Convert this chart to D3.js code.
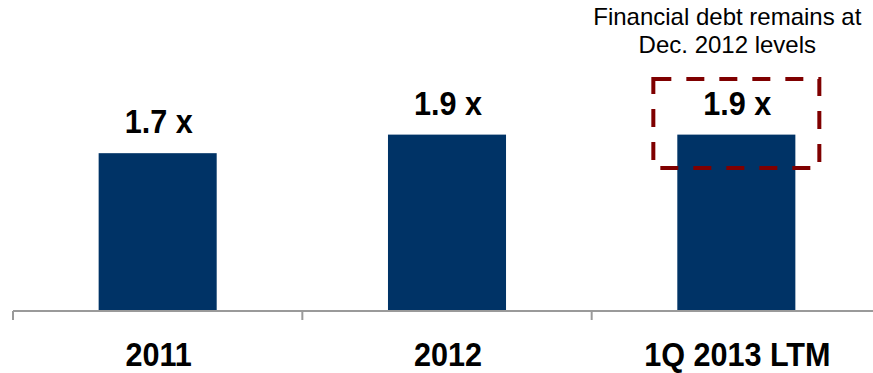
<!DOCTYPE html>
<html><head><meta charset="utf-8">
<script src="https://cdn.jsdelivr.net/npm/d3@7"></script>
<style>html,body{margin:0;padding:0;background:#fff;}svg{display:block;}</style>
</head><body>
<svg id="chart" width="873" height="373"></svg>
<script>
const categories = ["2011", "2012", "1Q 2013 LTM"];
const values = [1.7, 1.9, 1.9];
const valueLabels = ["1.7 x", "1.9 x", "1.9 x"];
const annotationLines = ["Financial debt remains at", "Dec. 2012 levels"];
const highlightIndex = 2;

const svg = d3.select("#chart");
const baseY = 311;
const x = d3.scaleBand().domain(categories).range([13, 881]).padding(0);
const y = d3.scaleLinear().domain([0, 3.35]).range([baseY, 0]);
const barW = x.bandwidth() * 0.408;
const cx = d => x(d) + x.bandwidth() / 2;
const sx = 0.9;

// bars
svg.selectAll("rect.bar").data(categories).join("rect")
  .attr("class", "bar")
  .attr("x", d => cx(d) - barW / 2)
  .attr("width", barW)
  .attr("y", (d, i) => y(values[i]))
  .attr("height", (d, i) => baseY - y(values[i]))
  .attr("fill", "#003366");

// axis
svg.append("line").attr("x1", x.range()[0]).attr("x2", 873)
  .attr("y1", baseY).attr("y2", baseY)
  .attr("stroke", "#9a9a9a").attr("stroke-width", 2);
svg.selectAll("line.tick").data(categories).join("line")
  .attr("class", "tick")
  .attr("x1", d => x(d)).attr("x2", d => x(d))
  .attr("y1", baseY).attr("y2", baseY + 9)
  .attr("stroke", "#9a9a9a").attr("stroke-width", 2);

// category labels
svg.selectAll("text.cat").data(categories).join("text")
  .attr("class", "cat")
  .attr("transform", d => `translate(${cx(d) + 1},366) scale(${sx},1)`)
  .attr("text-anchor", "middle")
  .attr("font-family", "Liberation Sans, Arial, sans-serif")
  .attr("font-weight", "bold")
  .attr("font-size", 34)
  .attr("fill", "#000")
  .text(d => d);

// value labels
svg.selectAll("text.val").data(categories).join("text")
  .attr("class", "val")
  .attr("transform", (d, i) => `translate(${cx(d) + 1},${y(values[i]) - 20}) scale(${sx},1)`)
  .attr("text-anchor", "middle")
  .attr("font-family", "Liberation Sans, Arial, sans-serif")
  .attr("font-weight", "bold")
  .attr("font-size", 34)
  .attr("fill", "#000")
  .text((d, i) => valueLabels[i]);

// highlight dashed box
const hc = cx(categories[highlightIndex]);
svg.append("rect")
  .attr("x", hc - 83).attr("y", 79)
  .attr("width", 166).attr("height", 89)
  .attr("fill", "none")
  .attr("stroke", "#7f0000")
  .attr("stroke-width", 4)
  .attr("stroke-dasharray", "18,15");

// annotation
svg.selectAll("text.ann").data(annotationLines).join("text")
  .attr("class", "ann")
  .attr("x", hc - 9)
  .attr("y", (d, i) => 25 + i * 28)
  .attr("text-anchor", "middle")
  .attr("font-family", "Liberation Sans, Arial, sans-serif")
  .attr("font-size", 24)
  .attr("fill", "#000")
  .text(d => d);
</script>
</body></html>
